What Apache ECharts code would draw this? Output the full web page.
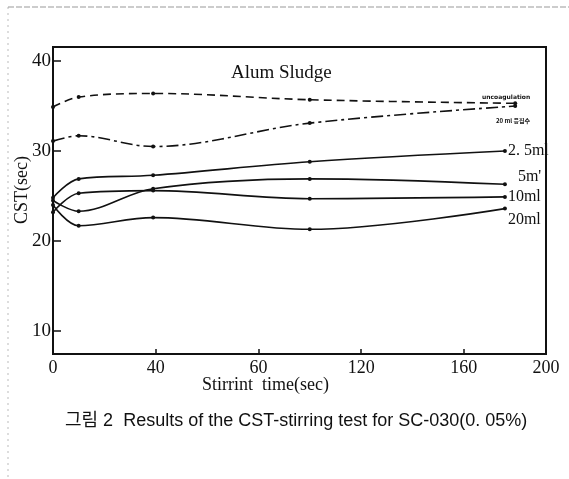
<!DOCTYPE html>
<html>
<head>
<meta charset="utf-8">
<script src="https://cdn.jsdelivr.net/npm/echarts@6/dist/echarts.min.js"></script>
<style>
  html, body { margin: 0; padding: 0; background: #fff; }
  #chart { width: 569px; height: 479px; }
</style>
</head>
<body>
<div id="chart"></div>
<script>
// stirring time (sec, on the printed axis scale)
const timeSolid = [0, 10, 39, 100, 176];
const timeDash = [0, 10, 39, 100, 180];

const uncoag = [34.9, 36.0, 36.4, 35.7, 35.3];
const coag20 = [31.1, 31.7, 30.5, 33.1, 35.0];
const ml2_5 = [24.8, 26.9, 27.3, 28.8, 30.0];
const ml5 = [24.5, 23.3, 25.8, 26.9, 26.3];
const ml10 = [23.2, 25.3, 25.6, 24.7, 24.9];
const ml20 = [24.0, 21.7, 22.6, 21.3, 23.6];

const xTickValues = [0, 40, 80, 120, 160, 192];
const xTickLabels = ["0", "40", "60", "120", "160", "200"];
const yTickValues = [10, 20, 30, 40];

const serif = "Liberation Serif, DejaVu Serif, serif";

const chart = echarts.init(document.getElementById("chart"));

function pairs(xs, ys) {
  return ys.map((y, i) => [xs[i], y]);
}

function solid(name, xs, ys, label, offset) {
  return {
    name: name,
    type: "line",
    smooth: 0.35,
    symbol: "circle",
    symbolSize: 4,
    itemStyle: { color: "#111" },
    lineStyle: { color: "#111", width: 1.6 },
    data: pairs(xs, ys),
    endLabel: {
      show: !!label,
      formatter: label || "",
      offset: offset || [0, 0],
      distance: 3,
      color: "#111",
      fontFamily: serif,
      fontSize: 16,
    },
  };
}

const s1 = solid("uncoagulation", timeDash, uncoag);
s1.lineStyle.type = [8, 5];
const s2 = solid("20 ml coag", timeDash, coag20);
s2.lineStyle.type = [12, 4, 3, 4];

chart.setOption({
  animation: false,
  backgroundColor: "#fff",
  grid: {
    left: 53,
    right: 23,
    top: 47,
    bottom: 125,
    outerBoundsMode: "none",
    containLabel: false,
    show: true,
    borderColor: "#111",
    borderWidth: 2,
  },
  title: [
    {
      text: "Alum Sludge",
      left: 226,
      top: 59,
      textStyle: { fontFamily: serif, fontSize: 19, fontWeight: "normal", color: "#111" },
    },
    {
      text: "Stirrint  time(sec)",
      left: 197,
      top: 371,
      textStyle: { fontFamily: serif, fontSize: 18, fontWeight: "normal", color: "#111" },
    },
    {
      text: "그림 2  Results of the CST-stirring test for SC-030(0. 05%)",
      left: 60,
      top: 407,
      textStyle: {
        fontFamily: "Liberation Sans, Noto Sans CJK KR, sans-serif",
        fontSize: 18,
        fontWeight: "normal",
        color: "#111",
      },
    },
    {
      text: "uncoagulation",
      left: 477,
      top: 89,
      textStyle: { fontFamily: "DejaVu Sans", fontSize: 6, fontWeight: "bold", color: "#111" },
    },
    {
      text: "20 ml 응집수",
      left: 491,
      top: 113,
      textStyle: { fontFamily: "Noto Sans CJK KR", fontSize: 6, fontWeight: "bold", color: "#111" },
    },
  ],
  xAxis: {
    type: "value",
    min: 0,
    max: 192,
    axisLine: { show: true, lineStyle: { color: "#111", width: 2 } },
    axisTick: {
      show: true,
      inside: true,
      length: 5,
      customValues: xTickValues,
      lineStyle: { color: "#111", width: 1.5 },
    },
    axisLabel: {
      customValues: xTickValues,
      formatter: (v) => xTickLabels[xTickValues.indexOf(v)] ?? "",
      margin: 5,
      color: "#111",
      fontFamily: serif,
      fontSize: 18,
    },
    splitLine: { show: false },
  },
  yAxis: {
    type: "value",
    min: 7.44,
    max: 41.56,
    axisLine: { show: true, lineStyle: { color: "#111", width: 2 } },
    axisTick: {
      show: true,
      inside: true,
      length: 8,
      customValues: yTickValues,
      lineStyle: { color: "#111", width: 1.5 },
    },
    axisLabel: {
      customValues: yTickValues,
      margin: 2,
      color: "#111",
      fontFamily: serif,
      fontSize: 19,
    },
    splitLine: { show: false },
  },
  graphic: [
    {
      type: "text",
      x: 22,
      y: 190,
      rotation: Math.PI / 2,
      style: {
        text: "CST(sec)",
        fontFamily: serif,
        fontSize: 18,
        fill: "#111",
        align: "center",
        verticalAlign: "middle",
      },
    },
    {
      type: "line",
      shape: { x1: 8, y1: 7, x2: 8, y2: 479 },
      style: { stroke: "#bbb", lineWidth: 1, lineDash: [2, 4] },
    },
    {
      type: "line",
      shape: { x1: 8, y1: 7, x2: 569, y2: 7 },
      style: { stroke: "#999", lineWidth: 1, lineDash: [6, 2] },
    },
  ],
  series: [
    s1,
    s2,
    solid("2.5ml", timeSolid, ml2_5, "2. 5ml", [0, 0]),
    solid("5ml", timeSolid, ml5, "5m'", [10, -8]),
    solid("10ml", timeSolid, ml10, "10ml", [0, 0]),
    solid("20ml", timeSolid, ml20, "20ml", [0, 11]),
  ],
});
</script>
</body>
</html>
